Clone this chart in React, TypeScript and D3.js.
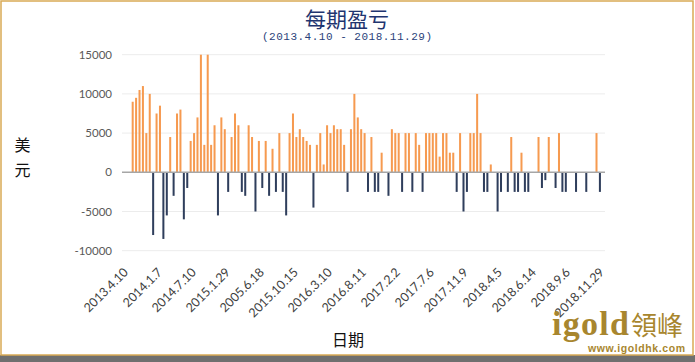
import React from 'react';
import * as d3 from 'd3';

// per-trade profit / loss in USD
const values = [
  9000, 9500, 10500, 11000, 5000, 10000, -8000, 7500, 8500, -8500,
  -5500, 4500, -3000, 7500, 8000, -6000, -2000, 4000, 5000, 7000,
  15000, 3500, 15000, 3500, 6000, -5500, 7000, 5500, -2500, 4500,
  7500, 6000, -2500, -3000, 6000, 4500, -5000, 4000, -2000, 4000,
  -3000, 3000, -2500, 5000, -2500, -5500, 5000, 7500, 4500, 5500,
  4500, 4000, 3500, -4500, 3500, 5000, 1000, 6000, 5000, 6000,
  5500, 5500, 3500, -2500, 5500, 10000, 7000, 5500, 5000, -2500,
  4500, -2500, -2500, 2500, 0, -3000, 5500, 5000, 5000, -2500,
  5000, 5000, -2500, 5000, 3500, -2500, 5000, 5000, 5000, 5000,
  2000, 5000, 5000, 2500, 2500, -2500, 5000, -5000, -2500, 5000,
  5000, 10000, 5000, -2500, -2500, 1000, 0, -5000, -2500, 0,
  -2500, 4500, -2500, -2500, 2500, -2500, -2500, 0, 0, 4500,
  -2000, -1000, 4500, 0, -2000, 5000, -2500, -2500, 0, 0,
  -2500, 0, 0, -2500, 0, 0, 5000, -2500,
];

const tickLabels = [
  '2013.4.10', '2014.1.7', '2014.7.10', '2015.1.29', '2005.6.18',
  '2015.10.15', '2016.3.10', '2016.8.11', '2017.2.2', '2017.7.6',
  '2017.11.9', '2018.4.5', '2018.6.14', '2018.9.6', '2018.11.29',
];

const yTicks = [15000, 10000, 5000, 0, -5000, -10000];

const W = 695;
const H = 362;
const plotLeft = 122;
const plotRight = 605;

const App = () => {
  const y = d3.scaleLinear().domain([-10000, 15000]).range([250.7, 54.7]);
  const x = d3
    .scaleBand<number>()
    .domain(d3.range(values.length))
    .range([131, 601.6])
    .paddingInner(0.41)
    .paddingOuter(0.2);
  const xLab = d3.scalePoint<string>().domain(tickLabels).range([129, 605]);
  const y0 = y(0);

  const labelFont = 'Lato, "Open Sans", "DejaVu Sans", sans-serif';

  return (
    <svg
      width={W}
      height={H}
      style={{ position: 'absolute', left: 0, top: 0, background: '#fff' }}
    >
      {/* frame */}
      <rect x={0} y={355} width={W} height={7} fill="#6f6f6f" />
      <rect x={1} y={1} width={W - 3} height={354} fill="#fff" stroke="#d9aa55" strokeWidth={1.5} />

      {/* title */}
      <text
        x={347}
        y={27}
        textAnchor="middle"
        fontFamily='"Noto Sans CJK SC", sans-serif'
        fontSize={21}
        fill="#1f3570"
      >
        每期盈亏
      </text>
      <text
        x={347}
        y={40}
        textAnchor="middle"
        fontFamily='"Liberation Mono", "DejaVu Sans Mono", monospace'
        fontSize={11}
        fill="#2a3f7a"
        textLength={170}
      >
        (2013.4.10 - 2018.11.29)
      </text>

      {/* grid + y ticks */}
      {yTicks.map(t => (
        <g key={t}>
          {t !== 0 && (
            <line x1={plotLeft} x2={plotRight} y1={y(t)} y2={y(t)} stroke="#ececec" strokeWidth={1} />
          )}
          <text
            x={112}
            y={y(t)}
            dy="0.35em"
            textAnchor="end"
            fontFamily={labelFont}
            fontSize={11.5}
            fill="#595959"
          >
            {t}
          </text>
        </g>
      ))}

      {/* bars */}
      {values.map((v, i) =>
        v === 0 ? null : (
          <rect
            key={i}
            x={x(i)}
            width={x.bandwidth()}
            y={v > 0 ? y(v) : y0}
            height={Math.abs(y(v) - y0)}
            fill={v > 0 ? '#f69a50' : '#2f3e5c'}
          />
        )
      )}

      {/* zero axis */}
      <line x1={plotLeft} x2={plotRight} y1={y0} y2={y0} stroke="#a6a6a6" strokeWidth={1.5} />

      {/* x tick labels */}
      {tickLabels.map(d => (
        <text
          key={d}
          transform={`translate(${xLab(d)},273) rotate(-45)`}
          textAnchor="end"
          fontFamily={labelFont}
          fontSize={12.5}
          fill="#404040"
        >
          {d}
        </text>
      ))}

      {/* axis titles */}
      <text x={22.5} y={151} textAnchor="middle" fontFamily='"Noto Sans CJK SC", sans-serif' fontSize={16} fill="#111">
        美
      </text>
      <text x={22.5} y={176} textAnchor="middle" fontFamily='"Noto Sans CJK SC", sans-serif' fontSize={16} fill="#111">
        元
      </text>
      <text x={348} y={346} textAnchor="middle" fontFamily='"Noto Sans CJK SC", sans-serif' fontSize={16} fill="#111">
        日期
      </text>

      {/* logo */}
      <text
        x={552}
        y={335}
        fontFamily='"Liberation Serif", "DejaVu Serif", serif'
        fontWeight="bold"
        fontSize={34}
        fill="#a8862e"
        textLength={77}
      >
        igold
      </text>
      <text x={631} y={335} fontFamily='"Noto Sans CJK TC", sans-serif' fontSize={26} fill="#a8862e">
        領峰
      </text>
      <text
        x={588}
        y={352}
        fontFamily='"Liberation Sans", Arial, sans-serif'
        fontWeight="bold"
        fontSize={10.5}
        fill="#a8862e"
        textLength={97}
      >
        www.igoldhk.com
      </text>
    </svg>
  );
};

export default App;
